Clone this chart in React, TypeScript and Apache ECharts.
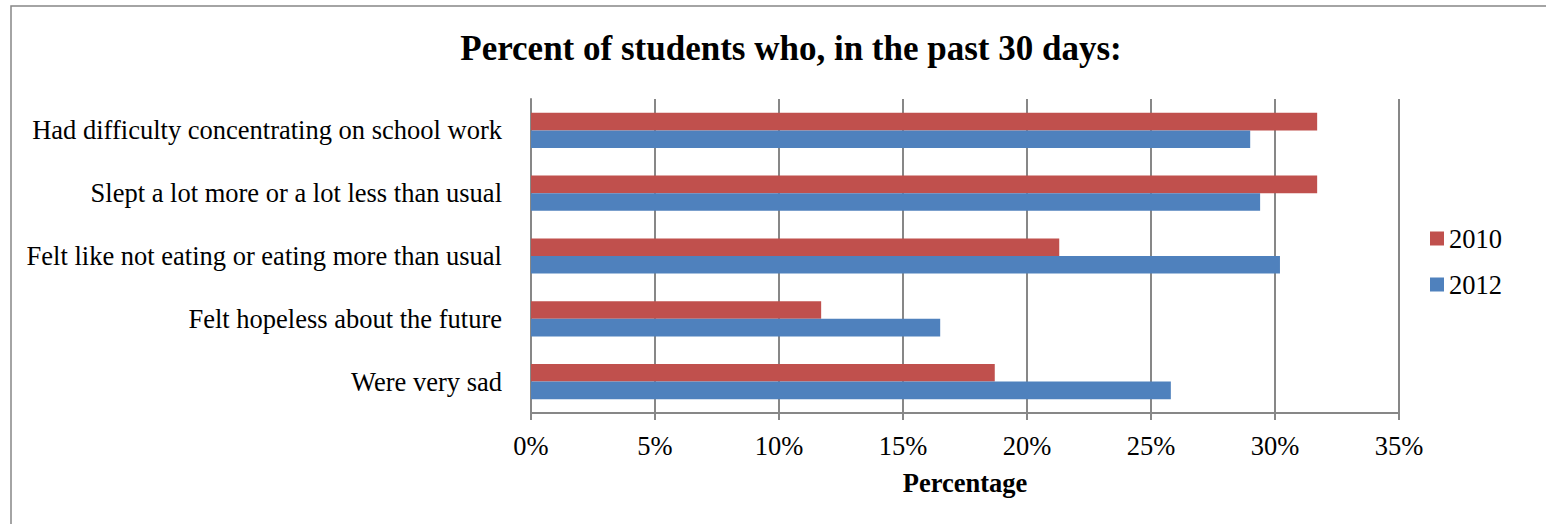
import React, { useEffect, useRef } from "react";
import * as echarts from "echarts";

const categories = [
  "Were very sad",
  "Felt hopeless about the future",
  "Felt like not eating or eating more than usual",
  "Slept a lot more or a lot less than usual",
  "Had difficulty concentrating on school work",
];
const values2010 = [18.7, 11.7, 21.3, 31.7, 31.7];
const values2012 = [25.8, 16.5, 30.2, 29.4, 29.0];
const xTicks = { min: 0, max: 35, interval: 5 };

const FONT = "'Liberation Serif', 'Times New Roman', serif";
const FS = 26.5;

export default function App() {
  const ref = useRef<HTMLDivElement>(null);
  useEffect(() => {
    document.body.style.margin = "0";
    const chart = echarts.init(ref.current!, null, { renderer: "svg" });
    chart.setOption({
      animation: false,
      backgroundColor: "#ffffff",
      title: {
        text: "Percent of students who, in the past 30 days:",
        left: 786,
        top: 26,
        textAlign: "center",
        textStyle: { fontFamily: FONT, fontSize: 35, fontWeight: "bold", color: "#000" },
      },
      graphic: [
        {
          type: "rect",
          shape: { x: 11, y: 6, width: 1600, height: 700 },
          style: { fill: "none", stroke: "#878787", lineWidth: 1.5 },
          silent: true,
        },
      ],
      legend: {
        orient: "vertical",
        left: 1425,
        top: 220,
        data: ["2010", "2012"],
        itemWidth: 14,
        itemHeight: 14,
        itemGap: 19,
        icon: "rect",
        textStyle: { fontFamily: FONT, fontSize: FS, color: "#000" },
      },
      grid: { left: 531, right: 147, top: 99, bottom: 111 },
      xAxis: {
        type: "value",
        min: xTicks.min,
        max: xTicks.max,
        interval: xTicks.interval,
        name: "Percentage",
        nameLocation: "middle",
        nameGap: 56,
        nameTextStyle: { fontFamily: FONT, fontSize: FS, fontWeight: "bold", color: "#000" },
        axisLine: { show: true, lineStyle: { color: "#878787", width: 2 } },
        axisTick: { show: true, length: 7, lineStyle: { color: "#878787", width: 2 } },
        axisLabel: {
          fontFamily: FONT,
          fontSize: FS,
          color: "#000",
          margin: 19,
          formatter: (v: number) => `${v}%`,
        },
        splitLine: { show: true, lineStyle: { color: "#878787", width: 2 } },
      },
      yAxis: {
        type: "category",
        data: categories,
        axisLine: { show: true, lineStyle: { color: "#878787", width: 2 } },
        axisTick: { show: false },
        axisLabel: { fontFamily: FONT, fontSize: FS, color: "#000", margin: 29 },
      },
      series: [
        {
          name: "2010",
          type: "bar",
          data: values2010,
          barGap: "0%",
          barCategoryGap: "44%",
          itemStyle: { color: "#C0504D" },
        },
        {
          name: "2012",
          type: "bar",
          data: values2012,
          barGap: "0%",
          barCategoryGap: "44%",
          itemStyle: { color: "#4F81BD" },
        },
      ],
    });
    return () => chart.dispose();
  }, []);
  return <div ref={ref} style={{ width: 1546, height: 524 }} />;
}
